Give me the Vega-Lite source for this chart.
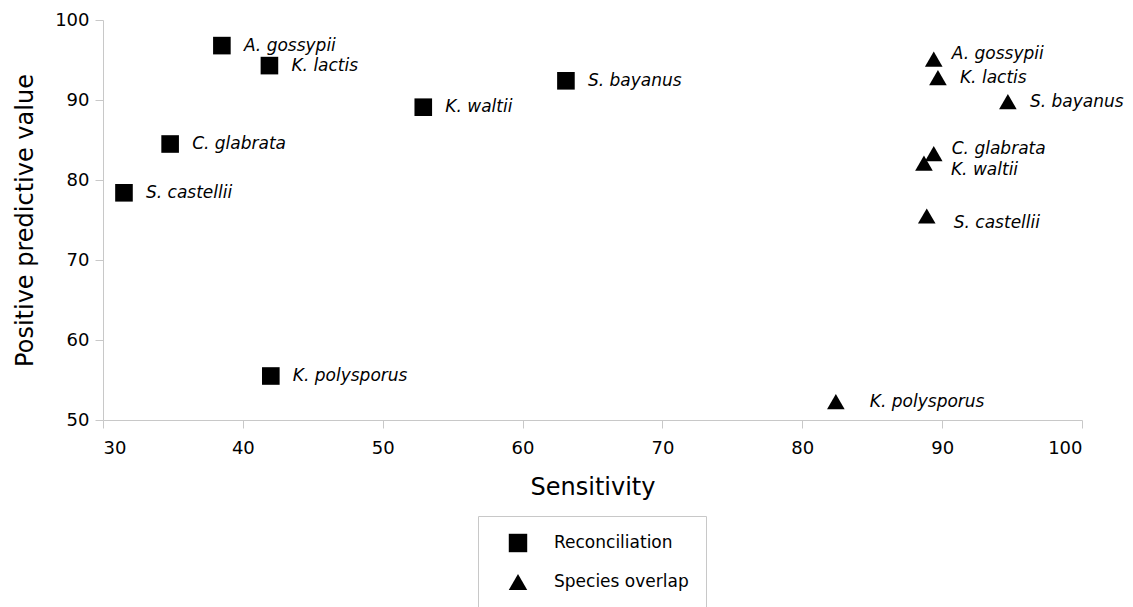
{
  "$schema": "https://vega.github.io/schema/vega-lite/v6.json",
  "width": 979,
  "height": 400,
  "autosize": {"type": "none"},
  "padding": {"left": 103, "top": 20, "right": 51, "bottom": 187},
  "background": "white",
  "config": {
    "view": {"stroke": null},
    "font": "DejaVu Sans",
    "axis": {
      "grid": false,
      "domainColor": "#c8c8c8",
      "tickColor": "#c8c8c8",
      "tickSize": 8,
      "labelFont": "DejaVu Sans",
      "labelFontSize": 18,
      "labelColor": "black",
      "titleFont": "DejaVu Sans",
      "titleFontSize": 24,
      "titleFontWeight": "normal",
      "titleColor": "black"
    }
  },
  "data": {
    "values": [
      {"species": "A. gossypii", "method": "Reconciliation", "sensitivity": 38.5, "ppv": 96.8},
      {"species": "K. lactis", "method": "Reconciliation", "sensitivity": 41.9, "ppv": 94.3},
      {"species": "K. waltii", "method": "Reconciliation", "sensitivity": 52.9, "ppv": 89.1},
      {"species": "S. bayanus", "method": "Reconciliation", "sensitivity": 63.1, "ppv": 92.4},
      {"species": "C. glabrata", "method": "Reconciliation", "sensitivity": 34.8, "ppv": 84.5},
      {"species": "S. castellii", "method": "Reconciliation", "sensitivity": 31.5, "ppv": 78.4},
      {"species": "K. polysporus", "method": "Reconciliation", "sensitivity": 42.0, "ppv": 55.5},
      {"species": "A. gossypii", "method": "Species overlap", "sensitivity": 89.4, "ppv": 95.1},
      {"species": "K. lactis", "method": "Species overlap", "sensitivity": 89.7, "ppv": 92.8},
      {"species": "S. bayanus", "method": "Species overlap", "sensitivity": 94.7, "ppv": 89.8},
      {"species": "C. glabrata", "method": "Species overlap", "sensitivity": 89.4, "ppv": 83.3},
      {"species": "K. waltii", "method": "Species overlap", "sensitivity": 88.7, "ppv": 82.1},
      {"species": "S. castellii", "method": "Species overlap", "sensitivity": 88.9, "ppv": 75.5},
      {"species": "K. polysporus", "method": "Species overlap", "sensitivity": 82.4, "ppv": 52.3}
    ]
  },
  "encoding": {
    "x": {
      "field": "sensitivity", "type": "quantitative", "title": "Sensitivity",
      "scale": {"domain": [30, 100], "nice": false, "zero": false},
      "axis": {"values": [30, 40, 50, 60, 70, 80, 90, 100], "labelPadding": 11, "titlePadding": 18}
    },
    "y": {
      "field": "ppv", "type": "quantitative", "title": "Positive predictive value",
      "scale": {"domain": [50, 100], "nice": false, "zero": false},
      "axis": {"values": [50, 60, 70, 80, 90, 100], "labelPadding": 6, "titlePadding": 17}
    }
  },
  "layer": [
    {
      "mark": {"type": "point", "filled": true, "opacity": 1, "size": 310, "color": "black"},
      "encoding": {
        "shape": {
          "field": "method", "type": "nominal",
          "scale": {"domain": ["Reconciliation", "Species overlap"], "range": ["square", "triangle-up"]},
          "legend": {
            "orient": "none", "legendX": 375, "legendY": 496, "direction": "vertical",
            "title": null, "padding": 17, "symbolOffset": 13, "labelOffset": 26, "rowPadding": 15,
            "strokeColor": "#c8c8c8", "fillColor": "white",
            "symbolFillColor": "black", "symbolStrokeColor": "black", "symbolSize": 340,
            "labelFontSize": 17, "labelFont": "DejaVu Sans", "labelColor": "black"
          }
        }
      }
    },
    {
      "transform": [{"filter": "!(datum.method === 'Species overlap' && (datum.species === 'A. gossypii' || datum.species === 'C. glabrata' || datum.species === 'K. waltii' || datum.species === 'S. castellii' || datum.species === 'K. polysporus'))"}],
      "mark": {"type": "text", "align": "left", "baseline": "middle", "dx": 22, "fontSize": 17, "fontStyle": "italic", "font": "DejaVu Sans", "color": "black"},
      "encoding": {"text": {"field": "species"}}
    },
    {
      "transform": [{"filter": "datum.method === 'Species overlap' && (datum.species === 'A. gossypii' || datum.species === 'C. glabrata')"}],
      "mark": {"type": "text", "align": "left", "baseline": "middle", "dx": 18, "dy": -5, "fontSize": 17, "fontStyle": "italic", "font": "DejaVu Sans", "color": "black"},
      "encoding": {"text": {"field": "species"}}
    },
    {
      "transform": [{"filter": "datum.method === 'Species overlap' && (datum.species === 'K. waltii' || datum.species === 'S. castellii')"}],
      "mark": {"type": "text", "align": "left", "baseline": "middle", "dx": 27, "dy": 7, "fontSize": 17, "fontStyle": "italic", "font": "DejaVu Sans", "color": "black"},
      "encoding": {"text": {"field": "species"}}
    },
    {
      "transform": [{"filter": "datum.method === 'Species overlap' && datum.species === 'K. polysporus'"}],
      "mark": {"type": "text", "align": "left", "baseline": "middle", "dx": 34, "fontSize": 17, "fontStyle": "italic", "font": "DejaVu Sans", "color": "black"},
      "encoding": {"text": {"field": "species"}}
    }
  ]
}
